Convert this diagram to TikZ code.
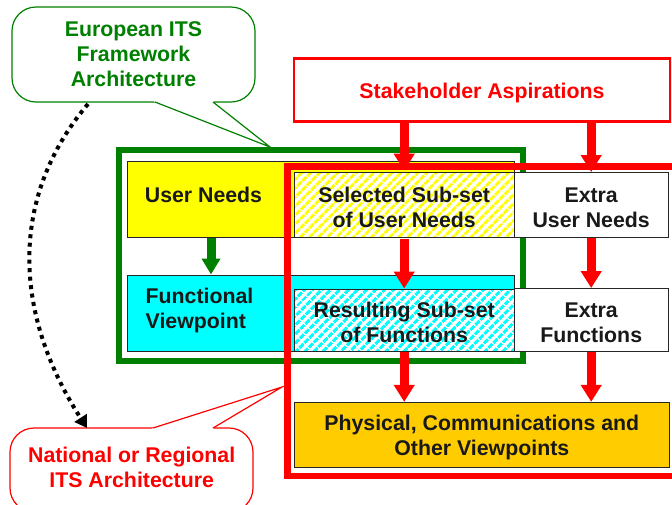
\documentclass[tikz,border=0pt]{standalone}
\usepackage{fontspec}
\setmainfont{Liberation Sans}
\usetikzlibrary{arrows.meta,patterns.meta}
\definecolor{gr}{rgb}{0,0.5,0}
\definecolor{orng}{RGB}{255,204,0}
\definecolor{yel}{RGB}{255,255,0}
\definecolor{cyn}{RGB}{0,255,255}
\definecolor{rd}{RGB}{255,0,0}
\begin{document}
\begin{tikzpicture}[x=1pt,y=-1pt,
  txt/.style={font=\bfseries\fontsize{21.3}{25}\selectfont, align=center, inner sep=0pt, text=black!90},
  btxt/.style={txt, yshift=-2.5pt},
  box/.style 2 args={draw=black!85, line width=0.9pt, inner sep=0pt, minimum width=#1, minimum height=#2},
  hatch/.style={preaction={fill=white}, pattern={Lines[angle=45,distance=6.5pt,line width=3.2pt]}, pattern color=#1},
  redarrow/.style={draw=rd, line width=9pt, -{Triangle[width=20pt,length=17pt]}},
  greenarrow/.style={draw=gr, line width=9pt, -{Triangle[width=18pt,length=16pt]}},
  callout/.style={line width=1.2pt, fill=white, rounded corners=24pt},
  ]
\useasboundingbox (0,0) rectangle (672,504);
\begin{scope}
\clip (0,0) rectangle (672,504);

% green frame
\draw[gr, line width=5.5pt] (119,150) rectangle (523,361);

% left boxes
\node[box={386.7pt}{76pt}, fill=yel] (yellowbox) at (320.7,199.7) {};
\node[box={386.7pt}{76.7pt}, fill=cyn] (cyanbox) at (320.7,313.3) {};
\node[txt] (untext) at (203.5,195) {User Needs};
\node[txt, align=left, anchor=west] (fvtext) at (145.5,310) {Functional\\Viewpoint};

% hatched sub-set boxes
\node[box={219.7pt}{65.4pt}, hatch=yel] (sel) at (404.2,205) {};
\node[btxt] (seltext) at (sel.center) {Selected Sub-set\\of User Needs};
\node[box={219.7pt}{62.7pt}, hatch=cyn] (res) at (404.2,320.3) {};
\node[btxt] (restext) at (res.center) {Resulting Sub-set\\of Functions};

% extra boxes
\node[box={154.3pt}{65pt}, fill=white] (exun) at (591.2,205) {};
\node[btxt] (exuntext) at (exun.center) {Extra\\User Needs};
\node[box={154.3pt}{63.2pt}, fill=white] (exf) at (591.2,320.1) {};
\node[btxt] (exftext) at (exf.center) {Extra\\Functions};

% physical
\node[box={375pt}{65.4pt}, fill=orng] (phys) at (481.8,435) {};
\node[btxt] (phystext) at (phys.center) {Physical, Communications and\\Other Viewpoints};

% stakeholder
\node[draw=rd, line width=2.5pt, minimum width=376pt, minimum height=63.4pt, inner sep=0pt] (stake) at (482,90) {};
\node[btxt, text=rd] (staketext) at (stake.center) {Stakeholder Aspirations};

% red frame
\draw[rd, line width=6.5pt] (700,166.5) -- (287.5,166.5) -- (287.5,476) -- (700,476);

% arrows
\draw[redarrow] (stake.south -| sel) -- (sel.north);
\draw[redarrow] (stake.south -| exun) -- (exun.north);
\draw[redarrow] (sel.south) -- (res.north);
\draw[redarrow] (exun.south) -- (exf.north);
\draw[redarrow] (res.south) -- (phys.north -| res);
\draw[redarrow] (exf.south) -- (phys.north -| exf);
\coordinate (garrx) at (211,0);
\draw[greenarrow] (yellowbox.south -| garrx) -- (cyanbox.north -| garrx);

% green callout
\draw[gr, callout] (12,7) rectangle (255,102);
\fill[white] (150,98) -- (155,102) -- (270,147) -- (213,102) -- (218,98) -- cycle;
\draw[gr, line width=1.2pt] (155,102) -- (270,147) -- (213,102);
\node[txt, text=gr] (gcall) at (133.5,54) {European ITS\\Framework\\Architecture};

% red callout
\draw[rd, callout] (10,428) rectangle (253,512);
\fill[white] (148,432) -- (153,428) -- (282,387) -- (213,428) -- (218,432) -- cycle;
\draw[rd, line width=1.2pt] (153,428) -- (282,387) -- (213,428);
\node[txt, text=rd] (rcall) at (131.7,467.5) {National or Regional\\ITS Architecture};

% dotted arrow between callouts
\coordinate (gbot) at (88,104);
\coordinate (rtop) at (87,428);
\draw[black, line width=4pt, dash pattern=on 4pt off 4.5pt, -{Triangle[width=14pt,length=12pt]}]
  (gbot) .. controls (11,195) and (11,310) .. (rtop);
\end{scope}
\end{tikzpicture}
\end{document}
